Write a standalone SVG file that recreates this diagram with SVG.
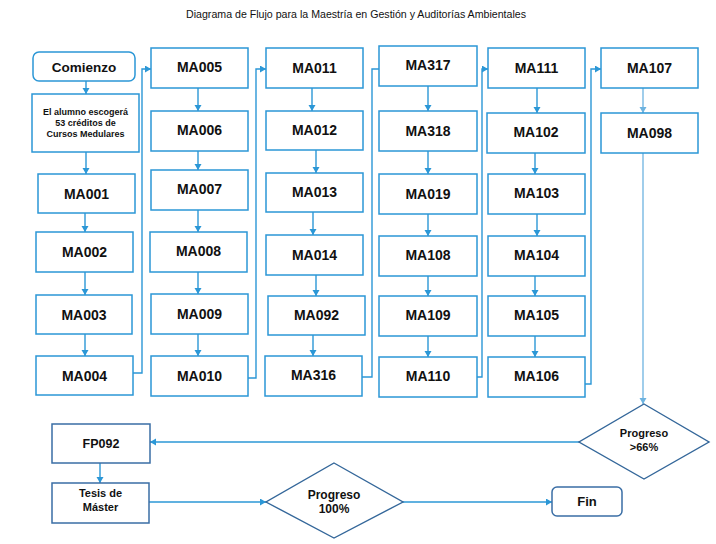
<svg xmlns="http://www.w3.org/2000/svg" width="716" height="544" viewBox="0 0 716 544">
<defs>
<style>
.box{fill:#fff;stroke:#2b97d6;stroke-width:1.5}
.dark{fill:#fff;stroke:#3a6ea5;stroke-width:1.5}
.dia{fill:#fff;stroke:#34679a;stroke-width:1.4}
.t{font-family:"Liberation Sans",Arial,sans-serif;font-weight:bold;fill:#111;text-anchor:middle}
.m{font-size:14px}
.c{fill:none;stroke:#2b97d6;stroke-width:1.4}
.cl{fill:none;stroke:#6db3e0;stroke-width:1.3}
.title{font-family:"Liberation Sans",Arial,sans-serif;font-size:10.5px;fill:#111;text-anchor:middle}
</style>
<marker id="ah" markerUnits="userSpaceOnUse" markerWidth="8" markerHeight="8" refX="6" refY="3.5" orient="auto">
<path d="M0,0 L6,3.5 L0,7 Z" fill="#2b97d6"/>
</marker>
<marker id="ahl" markerUnits="userSpaceOnUse" markerWidth="8" markerHeight="8" refX="6" refY="3.5" orient="auto">
<path d="M0,0 L6,3.5 L0,7 Z" fill="#6db3e0"/>
</marker>
</defs>
<rect width="716" height="544" fill="#fff"/>
<text class="title" x="356" y="18" textLength="340" lengthAdjust="spacingAndGlyphs">Diagrama de Flujo para la Maestría en Gestión y Auditorías Ambientales</text>

<g id="connectors">
<path class="c" d="M86,81 V94" marker-end="url(#ah)"/>
<path class="c" d="M86,152 V174" marker-end="url(#ah)"/>
<path class="c" d="M85,213 V232" marker-end="url(#ah)"/>
<path class="c" d="M85,272 V295" marker-end="url(#ah)"/>
<path class="c" d="M85,334 V356" marker-end="url(#ah)"/>
<path class="c" d="M133,373 H142 V69 H151" marker-end="url(#ah)"/>
<path class="c" d="M198,88 V111" marker-end="url(#ah)"/>
<path class="c" d="M198,151 V170" marker-end="url(#ah)"/>
<path class="c" d="M198,210 V232" marker-end="url(#ah)"/>
<path class="c" d="M198,272 V294" marker-end="url(#ah)"/>
<path class="c" d="M198,334 V356" marker-end="url(#ah)"/>
<path class="c" d="M248,378 H256 V69 H266" marker-end="url(#ah)"/>
<path class="c" d="M312,88 V111" marker-end="url(#ah)"/>
<path class="c" d="M316,150 V173" marker-end="url(#ah)"/>
<path class="c" d="M313,212 V235" marker-end="url(#ah)"/>
<path class="c" d="M316,275 V296" marker-end="url(#ah)"/>
<path class="c" d="M313,335 V356" marker-end="url(#ah)"/>
<path class="c" d="M362,377 H372 V69 H379"/>
<path class="c" d="M428,86 V111" marker-end="url(#ah)"/>
<path class="c" d="M428,151 V174" marker-end="url(#ah)"/>
<path class="c" d="M428,214 V236" marker-end="url(#ah)"/>
<path class="c" d="M428,276 V296" marker-end="url(#ah)"/>
<path class="c" d="M428,336 V357" marker-end="url(#ah)"/>
<path class="c" d="M477,377 H482 V69 H488" marker-end="url(#ah)"/>
<path class="c" d="M537,88 V113" marker-end="url(#ah)"/>
<path class="c" d="M535,153 V174" marker-end="url(#ah)"/>
<path class="c" d="M537,214 V236" marker-end="url(#ah)"/>
<path class="c" d="M535,276 V296" marker-end="url(#ah)"/>
<path class="c" d="M535,336 V357" marker-end="url(#ah)"/>
<path class="c" d="M585,384 H591 V69 H601" marker-end="url(#ah)"/>
<path class="cl" d="M643,88 V113" marker-end="url(#ahl)"/>
<path class="cl" d="M643,153 V404" marker-end="url(#ahl)"/>
<path class="c" d="M579,442 H150" marker-end="url(#ah)"/>
<path class="c" d="M100,463 V483" marker-end="url(#ah)"/>
<path class="c" d="M149,502 H266" marker-end="url(#ah)"/>
<path class="c" d="M403,502 H552" marker-end="url(#ah)"/>
</g>

<g id="comienzo"><rect class="box" x="33" y="52" width="102" height="29" rx="6"/><text class="t" x="84" y="71.5" font-size="13.5">Comienzo</text></g>
<g id="alumno"><rect class="box" x="32" y="94" width="107" height="58"/>
<text class="t" x="85.5" y="115" font-size="9">El alumno escogerá</text>
<text class="t" x="85.5" y="126" font-size="9">53 créditos de</text>
<text class="t" x="85.5" y="137" font-size="9">Cursos Medulares</text></g>
<g id="ma001"><rect class="box" x="38" y="174" width="97" height="39"/><text class="t m" x="86.5" y="198.5">MA001</text></g>
<g id="ma002"><rect class="box" x="36" y="232" width="97" height="40"/><text class="t m" x="84.5" y="257">MA002</text></g>
<g id="ma003"><rect class="box" x="36" y="295" width="96" height="39"/><text class="t m" x="84" y="319.5">MA003</text></g>
<g id="ma004"><rect class="box" x="36" y="356" width="97" height="39"/><text class="t m" x="84.5" y="380.5">MA004</text></g>

<g id="ma005"><rect class="box" x="151" y="48" width="97" height="40"/><text class="t m" x="199.5" y="72">MA005</text></g>
<g id="ma006"><rect class="box" x="151" y="111" width="97" height="40"/><text class="t m" x="199.5" y="135">MA006</text></g>
<g id="ma007"><rect class="box" x="151" y="170" width="97" height="40"/><text class="t m" x="199.5" y="194">MA007</text></g>
<g id="ma008"><rect class="box" x="150" y="232" width="97" height="40"/><text class="t m" x="198.5" y="256">MA008</text></g>
<g id="ma009"><rect class="box" x="151" y="294" width="97" height="40"/><text class="t m" x="199.5" y="318.5">MA009</text></g>
<g id="ma010"><rect class="box" x="151" y="356" width="97" height="40"/><text class="t m" x="199.5" y="380.5">MA010</text></g>

<g id="ma011"><rect class="box" x="266" y="48" width="97" height="40"/><text class="t m" x="314.5" y="72.5">MA011</text></g>
<g id="ma012"><rect class="box" x="266" y="111" width="97" height="39"/><text class="t m" x="314.5" y="134.5">MA012</text></g>
<g id="ma013"><rect class="box" x="266" y="173" width="97" height="39"/><text class="t m" x="314.5" y="196.5">MA013</text></g>
<g id="ma014"><rect class="box" x="266" y="235" width="97" height="40"/><text class="t m" x="314.5" y="259.5">MA014</text></g>
<g id="ma092"><rect class="box" x="268" y="296" width="97" height="39"/><text class="t m" x="316.5" y="320">MA092</text></g>
<g id="ma316"><rect class="box" x="265" y="356" width="97" height="40"/><text class="t m" x="313.5" y="379.5">MA316</text></g>

<g id="ma317"><rect class="box" x="379" y="46" width="98" height="40"/><text class="t m" x="428" y="70">MA317</text></g>
<g id="ma318"><rect class="box" x="379" y="111" width="98" height="40"/><text class="t m" x="428" y="135.5">MA318</text></g>
<g id="ma019"><rect class="box" x="379" y="174" width="98" height="40"/><text class="t m" x="428" y="198.5">MA019</text></g>
<g id="ma108"><rect class="box" x="379" y="236" width="98" height="40"/><text class="t m" x="428" y="260">MA108</text></g>
<g id="ma109"><rect class="box" x="379" y="296" width="98" height="40"/><text class="t m" x="428" y="320">MA109</text></g>
<g id="ma110"><rect class="box" x="379" y="357" width="98" height="40"/><text class="t m" x="428" y="381">MA110</text></g>

<g id="ma111"><rect class="box" x="488" y="48" width="97" height="40"/><text class="t m" x="536.5" y="72.5">MA111</text></g>
<g id="ma102"><rect class="box" x="487" y="113" width="98" height="40"/><text class="t m" x="536" y="137">MA102</text></g>
<g id="ma103"><rect class="box" x="488" y="174" width="97" height="40"/><text class="t m" x="536.5" y="198">MA103</text></g>
<g id="ma104"><rect class="box" x="488" y="236" width="97" height="40"/><text class="t m" x="536.5" y="260">MA104</text></g>
<g id="ma105"><rect class="box" x="488" y="296" width="97" height="40"/><text class="t m" x="536.5" y="320">MA105</text></g>
<g id="ma106"><rect class="box" x="488" y="357" width="97" height="40"/><text class="t m" x="536.5" y="381">MA106</text></g>

<g id="ma107"><rect class="box" x="601" y="48" width="97" height="40"/><text class="t m" x="649.5" y="72.5">MA107</text></g>
<g id="ma098"><rect class="box" x="601" y="113" width="97" height="40"/><text class="t m" x="649.5" y="138">MA098</text></g>

<g id="progreso66"><path class="dia" d="M644,404 L709,442 L644,479 L579,442 Z"/>
<text class="t" x="644" y="437" font-size="11">Progreso</text>
<text class="t" x="644" y="451" font-size="11">&gt;66%</text></g>

<g id="fp092"><rect class="dark" x="52" y="424" width="98" height="39"/><text class="t" x="101" y="447.5" font-size="12.5">FP092</text></g>
<g id="tesis"><rect class="dark" x="52" y="483" width="97" height="40"/>
<text class="t" x="100.5" y="497" font-size="11">Tesis de</text>
<text class="t" x="100.5" y="511" font-size="11">Máster</text></g>

<g id="progreso100"><path class="dia" d="M334,463 L403,502 L334,538 L266,502 Z"/>
<text class="t" x="334" y="499" font-size="12">Progreso</text>
<text class="t" x="334" y="513" font-size="12">100%</text></g>

<g id="fin"><rect class="dark" x="552" y="487" width="70" height="29" rx="5"/><text class="t" x="587" y="506" font-size="13">Fin</text></g>
</svg>
